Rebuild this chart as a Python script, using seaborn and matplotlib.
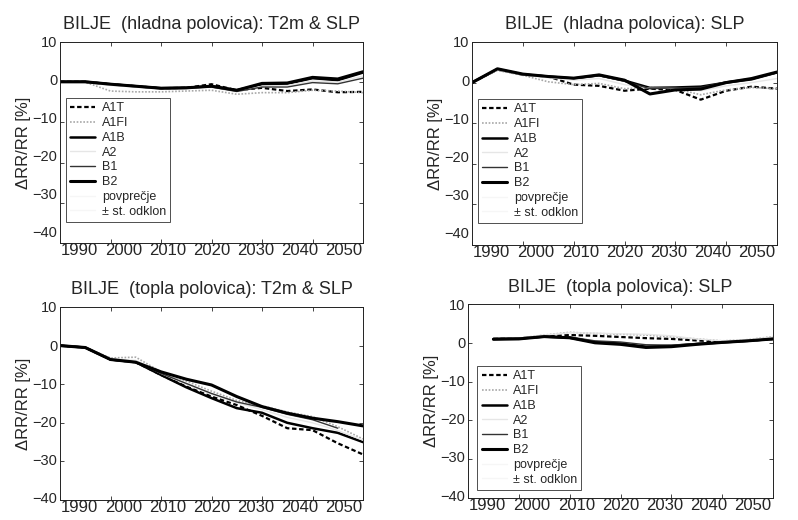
import numpy as np
import pandas as pd
import matplotlib
matplotlib.use("Agg")
import matplotlib.pyplot as plt
from matplotlib.lines import Line2D
from matplotlib.transforms import ScaledTranslation
import seaborn as sns

sns.set_theme(style="white")
plt.rcParams['font.family'] = ['Liberation Sans', 'DejaVu Sans']

years = [1990, 1995, 2000, 2005, 2010, 2015, 2020, 2025, 2030, 2035, 2040, 2045, 2050]
scenarios = ["A1T", "A1FI", "A1B", "A2", "B1", "B2"]
extra_labels = ["povprečje", "± st. odklon"]

# hladna polovica: T2m & SLP
hl_t2m_A1T = [0.1, 0.1, -0.5, -1.0, -1.5, -1.4, -0.5, -2.0, -1.4, -2.2, -1.8, -2.5, -2.4]
hl_t2m_A1FI = [0.1, 0.0, -2.2, -2.4, -2.4, -2.2, -2.0, -3.0, -2.6, -2.6, -2.0, -2.2, -2.6]
hl_t2m_A1B = [0.1, 0.1, -0.5, -1.0, -1.5, -1.4, -1.0, -2.0, -0.5, -0.4, 1.0, 0.5, 2.4]
hl_t2m_A2 = [0.1, 0.0, -0.8, -1.2, -1.6, -1.5, -1.3, -2.4, -1.0, -0.8, 0.3, 0.0, 1.5]
hl_t2m_B1 = [0.1, 0.1, -0.5, -1.0, -1.5, -1.4, -1.2, -2.3, -1.2, -1.2, -0.1, -0.4, 1.0]
hl_t2m_B2 = [0.1, 0.1, -0.5, -1.0, -1.5, -1.4, -1.0, -2.0, -0.3, -0.2, 1.2, 0.8, 2.6]

# hladna polovica: SLP
hl_slp_A1T = [0.0, 3.2, 2.0, 1.5, -0.5, -0.8, -2.0, -1.5, -1.8, -4.2, -2.0, -1.0, -1.5]
hl_slp_A1FI = [0.0, 3.0, 1.8, 0.2, -0.5, -0.2, -1.5, -1.2, -1.5, -3.0, -1.8, -1.2, -1.5]
hl_slp_A1B = [0.0, 3.3, 2.0, 1.5, 1.0, 1.8, 0.5, -1.3, -1.2, -1.0, 0.0, 0.8, 2.5]
hl_slp_A2 = [0.0, 3.1, 1.9, 1.2, 0.6, 1.0, -0.5, -1.4, -1.4, -2.0, -0.8, 0.0, 1.0]
hl_slp_B1 = [0.0, 3.3, 2.0, 1.5, 1.0, 1.7, 0.3, -1.5, -1.3, -1.2, 0.2, 1.0, 2.4]
hl_slp_B2 = [0.0, 3.4, 2.1, 1.5, 1.1, 1.9, 0.6, -2.8, -1.8, -1.6, 0.0, 1.0, 2.6]

# topla polovica: T2m & SLP
tp_t2m_A1T = [0.0, -0.5, -3.6, -4.3, -7.6, -10.6, -13.2, -15.4, -18.2, -21.4, -21.9, -25.3, -28.2]
tp_t2m_A1FI = [0.0, -0.5, -3.2, -3.0, -6.8, -9.2, -11.8, -14.2, -15.6, -17.2, -18.4, -21.0, -24.2]
tp_t2m_A1B = [0.0, -0.5, -3.6, -4.3, -7.6, -10.8, -13.6, -16.2, -17.4, -20.0, -21.4, -22.6, -25.0]
tp_t2m_A2 = [0.0, -0.5, -3.4, -3.8, -7.2, -10.0, -12.6, -14.8, -16.6, -18.6, -20.0, -22.0, -24.5]
tp_t2m_B1 = [0.0, -0.5, -3.6, -4.3, -7.2, -9.8, -12.4, -14.6, -16.0, -17.8, -19.2, -21.4, np.nan]
tp_t2m_B2 = [0.0, -0.5, -3.6, -4.3, -6.8, -8.7, -10.2, -13.2, -15.8, -17.5, -18.8, -19.7, -20.8]

# topla polovica: SLP
tp_slp_A1T = [np.nan, 1.0, 1.1, 1.6, 2.0, 1.8, 1.5, 1.2, 1.0, 0.6, 0.3, 0.5, 1.0]
tp_slp_A1FI = [np.nan, 1.0, 1.2, 2.0, 2.7, 2.4, 2.2, 2.0, 1.5, 1.0, 0.5, 0.8, 1.6]
tp_slp_A1B = [np.nan, 1.0, 1.1, 1.6, 1.3, 0.2, -0.2, -1.0, -0.8, -0.3, 0.1, 0.5, 1.0]
tp_slp_A2 = [np.nan, 1.0, 1.2, 2.0, 2.6, 2.5, 2.3, 2.2, 1.8, 1.0, 0.5, 0.8, 1.5]
tp_slp_B1 = [np.nan, 1.0, 1.2, 1.7, 1.5, 0.5, 0.2, -0.5, -0.6, -0.2, 0.2, 0.6, 1.0]
tp_slp_B2 = [np.nan, 0.9, 1.0, 1.6, 1.3, 0.0, -0.4, -1.2, -1.0, -0.4, 0.1, 0.5, 1.0]

# line style per scenario (scanned b/w figure)
styles = {
    "A1T": dict(color="black", ls=(0, (2, 1.2)), lw=1.6),
    "A1FI": dict(color="#a8a8a8", ls=(0, (1, 1)), lw=1.2),
    "A1B": dict(color="black", ls="-", lw=1.8),
    "A2": dict(color="#e6e6e6", ls="-", lw=1.0),
    "B1": dict(color="#333333", ls="-", lw=1.0),
    "B2": dict(color="black", ls="-", lw=2.2),
}


def make_df(A1T, A1FI, A1B, A2, B1, B2):
    df = pd.DataFrame({"leto": years, "A1T": A1T, "A1FI": A1FI, "A1B": A1B,
                       "A2": A2, "B1": B1, "B2": B2})
    return df.melt(id_vars="leto", var_name="scenarij", value_name="dRR")


# title, data, axes box in px (left, right, top, bottom), legend anchor, y-label squeeze
panels = [
    ("BILJE  (hladna polovica): T2m & SLP",
     make_df(hl_t2m_A1T, hl_t2m_A1FI, hl_t2m_A1B, hl_t2m_A2, hl_t2m_B1, hl_t2m_B2),
     (60, 363, 42, 243), (0.02, 0.104), 0.055),
    ("BILJE  (hladna polovica): SLP",
     make_df(hl_slp_A1T, hl_slp_A1FI, hl_slp_A1B, hl_slp_A2, hl_slp_B1, hl_slp_B2),
     (472, 777, 42, 245), (0.02, 0.108), 0.06),
    ("BILJE  (topla polovica): T2m & SLP",
     make_df(tp_t2m_A1T, tp_t2m_A1FI, tp_t2m_A1B, tp_t2m_A2, tp_t2m_B1, tp_t2m_B2),
     (60, 363, 307, 500), None, 0.015),
    ("BILJE  (topla polovica): SLP",
     make_df(tp_slp_A1T, tp_slp_A1FI, tp_slp_A1B, tp_slp_A2, tp_slp_B1, tp_slp_B2),
     (468, 773, 304, 498), (0.03, 0.041), 0.015),
]

W, H = 798, 520
fig = plt.figure(figsize=(W / 100, H / 100), dpi=100)

for title, df, (l, r, t, b), leg_pos, ysq in panels:
    ax = fig.add_axes([l / W, 1 - b / H, (r - l) / W, (b - t) / H])
    for sc in scenarios:
        st = styles[sc]
        sns.lineplot(data=df[df["scenarij"] == sc], x="leto", y="dRR", ax=ax,
                     color=st["color"], linestyle=st["ls"], linewidth=st["lw"],
                     label=sc, legend=False)
    ax.set_xlim(1990, 2050)
    ax.set_ylim(-40, 10)
    ax.set_xticks(range(1990, 2051, 10))
    ax.set_yticks(range(-40, 11, 10))
    ax.tick_params(axis="x", labelsize=12, pad=0)
    ax.tick_params(axis="y", labelsize=10.5, pad=2)
    ax.tick_params(direction="in", top=True, right=True, length=3, width=0.6,
                   bottom=True, left=True)
    for sp in ax.spines.values():
        sp.set_color("#222222")
        sp.set_linewidth(0.7)
    ax.set_xlabel("")
    ax.set_ylabel("ΔRR/RR [%]", fontsize=12, labelpad=1)
    ax.set_title(title, fontsize=13, pad=9)

    # the scanned tick labels sit a bit squeezed toward the middle
    w, h = r - l, b - t
    for yr, lab in zip(range(1990, 2051, 10), ax.get_xticklabels()):
        dx = (w / 2 - (yr - 1990) / 60 * w) * 0.13
        lab.set_transform(lab.get_transform() + ScaledTranslation(dx / 100, 0, fig.dpi_scale_trans))
    for v, lab in zip(range(-40, 11, 10), ax.get_yticklabels()):
        dy = (10 - v) / 50 * h * ysq
        lab.set_transform(lab.get_transform() + ScaledTranslation(0, dy / 100, fig.dpi_scale_trans))

    if leg_pos is not None:
        handles = [Line2D([], [], color=styles[s]["color"], linestyle=styles[s]["ls"],
                          linewidth=styles[s]["lw"]) for s in scenarios]
        handles += [Line2D([], [], color="#f6f6f6", linewidth=1.0) for _ in extra_labels]
        leg = ax.legend(handles, scenarios + extra_labels, loc="lower left",
                        bbox_to_anchor=leg_pos, fontsize=9, frameon=True,
                        fancybox=False, labelspacing=0.22, handlelength=2.0,
                        handletextpad=0.5, borderpad=0.35, borderaxespad=0)
        leg.get_frame().set_edgecolor("#222222")
        leg.get_frame().set_linewidth(0.7)

fig.savefig("out.png", dpi=100, facecolor="white")
